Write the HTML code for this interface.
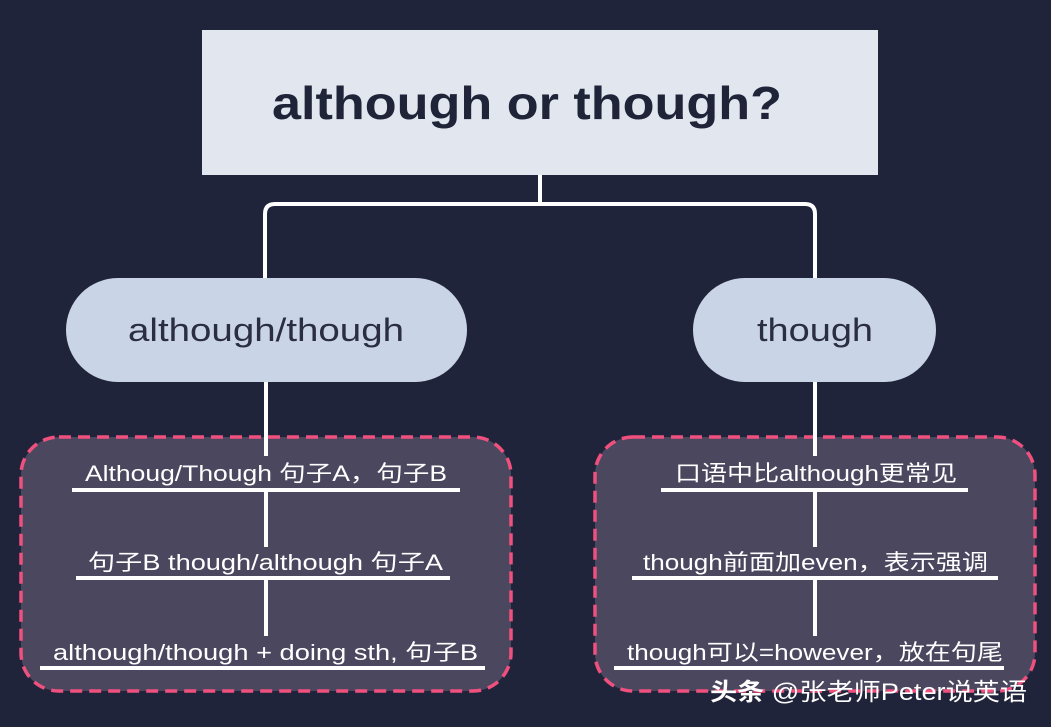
<!DOCTYPE html>
<html><head><meta charset="utf-8"><style>
html,body{margin:0;padding:0;background:#20243a;}
svg{display:block}
text{font-family:"Liberation Sans","Noto Sans CJK SC",sans-serif;}
</style></head><body>
<svg width="1051" height="727" viewBox="0 0 1051 727" xmlns="http://www.w3.org/2000/svg">
<rect width="1051" height="727" fill="#20243a"/>
<rect x="202" y="30" width="676" height="145" fill="#e1e6ef"/>
<text x="272" y="119" font-size="46" font-weight="bold" fill="#202438" textLength="510" lengthAdjust="spacingAndGlyphs">although or though?</text>
<g stroke="#ffffff" stroke-width="4" fill="none">
<line x1="540" y1="175" x2="540" y2="204"/>
<path d="M265 282 V214 Q265 204 275 204 H805 Q815 204 815 214 V282"/>
</g>
<rect x="66" y="278" width="401" height="104" rx="52" fill="#c9d5e6"/>
<text x="128" y="341" font-size="32" fill="#2a2e40" textLength="276" lengthAdjust="spacingAndGlyphs">although/though</text>
<rect x="693" y="278" width="243" height="104" rx="52" fill="#c9d5e6"/>
<text x="757" y="341" font-size="32" fill="#2a2e40" textLength="116" lengthAdjust="spacingAndGlyphs">though</text>
<rect x="21" y="437" width="490" height="254" rx="38" fill="#4a475f" stroke="#f0507e" stroke-width="3.5" stroke-dasharray="12 7"/>
<rect x="595" y="437" width="440" height="254" rx="38" fill="#4a475f" stroke="#f0507e" stroke-width="3.5" stroke-dasharray="12 7"/>
<g stroke="#ffffff" stroke-width="4">
<line x1="266" y1="382" x2="266" y2="456"/>
<line x1="266" y1="490" x2="266" y2="547"/>
<line x1="266" y1="578" x2="266" y2="636"/>
<line x1="72" y1="490" x2="460" y2="490"/>
<line x1="76" y1="578" x2="450" y2="578"/>
<line x1="40" y1="668" x2="485" y2="668"/>
<line x1="815" y1="382" x2="815" y2="456"/>
<line x1="815" y1="490" x2="815" y2="547"/>
<line x1="815" y1="578" x2="815" y2="636"/>
<line x1="661" y1="490" x2="968" y2="490"/>
<line x1="632" y1="578" x2="998" y2="578"/>
<line x1="614" y1="668" x2="1004" y2="668"/>
</g>
<g font-size="22" fill="#ffffff" lengthAdjust="spacingAndGlyphs">
<text x="85" y="481" textLength="362" lengthAdjust="spacingAndGlyphs">Althoug/Though 句子A，句子B</text>
<text x="88" y="570" textLength="355" lengthAdjust="spacingAndGlyphs">句子B though/although 句子A</text>
<text x="53" y="660" textLength="425" lengthAdjust="spacingAndGlyphs">although/though + doing sth, 句子B</text>
<text x="675" y="481" textLength="282" lengthAdjust="spacingAndGlyphs">口语中比although更常见</text>
<text x="643" y="570" textLength="345" lengthAdjust="spacingAndGlyphs">though前面加even，表示强调</text>
<text x="627" y="660" textLength="376" lengthAdjust="spacingAndGlyphs">though可以=however，放在句尾</text>
</g>
<text x="710" y="700" font-size="24" fill="#ffffff" textLength="317" lengthAdjust="spacingAndGlyphs"><tspan font-weight="bold">头条</tspan> @张老师Peter说英语</text>
</svg>
</body></html>
